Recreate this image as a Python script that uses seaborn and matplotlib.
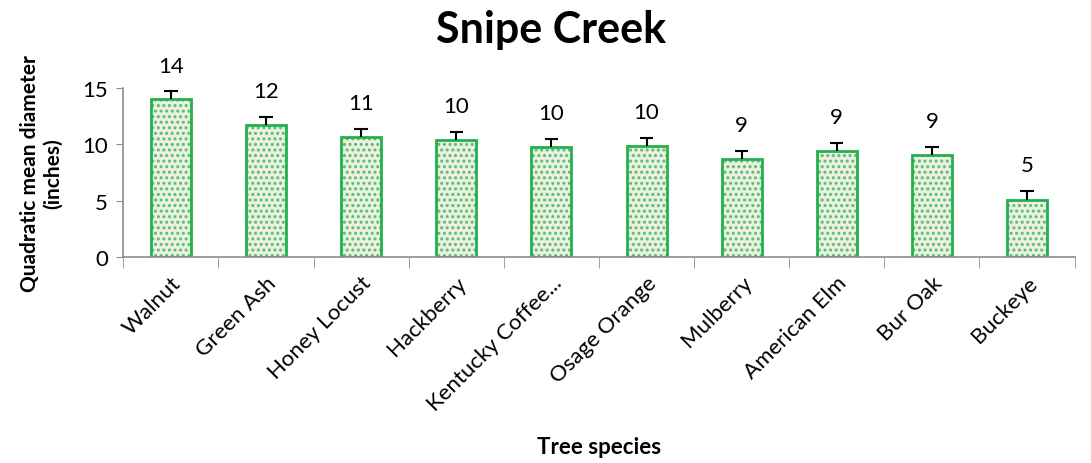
import numpy as np
import pandas as pd
import matplotlib
matplotlib.use("Agg")
import matplotlib.pyplot as plt
import seaborn as sns


# =====================================
# DATA
# =====================================

species = [
    "Walnut",
    "Green Ash",
    "Honey Locust",
    "Hackberry",
    "Kentucky Coffee...",
    "Osage Orange",
    "Mulberry",
    "American Elm",
    "Bur Oak",
    "Buckeye"
]

qmd = [14.0, 11.7, 10.65, 10.4, 9.75, 9.85, 8.7, 9.4, 9.05, 5.05]

qmd_err = [0.7, 0.7, 0.7, 0.7, 0.7, 0.7, 0.7, 0.7, 0.7, 0.8]

df = pd.DataFrame({
    "species": species,
    "qmd": qmd
})


# =====================================
# STYLE
# =====================================

sns.set_style("white")

plt.rcParams["font.family"] = ["Lato", "DejaVu Sans"]
plt.rcParams["hatch.linewidth"] = 1.4
plt.rcParams["text.color"] = "black"
plt.rcParams["axes.labelcolor"] = "black"
plt.rcParams["xtick.labelcolor"] = "black"
plt.rcParams["ytick.labelcolor"] = "black"

green = "#22b14c"
hatch_green = "#4fbf6e"
face = "#eef1df"
grey = "#8c8c8c"


# =====================================
# PLOT
# =====================================

fig = plt.figure(figsize=(10.91, 4.64), dpi=100)

ax = fig.add_axes([0.113, 0.444, 0.872, 0.364])

# textured fill
sns.barplot(
    data=df,
    x="species",
    y="qmd",
    color=face,
    width=0.42,
    edgecolor=hatch_green,
    linewidth=0,
    hatch="...",
    ax=ax
)

# outline
sns.barplot(
    data=df,
    x="species",
    y="qmd",
    fill=False,
    width=0.42,
    edgecolor=green,
    linewidth=2,
    ax=ax
)

xpos = np.arange(len(species))
tops = np.array(qmd) + np.array(qmd_err)

# upper error bars only
ax.vlines(xpos, qmd, tops, color="black", linewidth=1.5, zorder=1)
ax.hlines(tops, xpos - 0.07, xpos + 0.07, color="black", linewidth=1.5, zorder=3)

for x, v, t in zip(xpos, qmd, tops):
    ax.text(
        x,
        t + 2.3,
        f"{v:.0f}",
        ha="center",
        va="center",
        fontsize=16,
        color="black",
        clip_on=False
    )

ax.set_ylim(0, 15)
ax.set_xlim(-0.5, len(species) - 0.5)
ax.set_yticks([0, 5, 10, 15])
ax.tick_params(axis="y", labelsize=16, length=5, color=grey, labelcolor="black",
               direction="out", left=True, pad=6)

ax.set_xticks(xpos)
ax.set_xticklabels(species, rotation=45, ha="right", rotation_mode="anchor", fontsize=16)
ax.tick_params(axis="x", length=0, pad=11, labelcolor="black")
ax.set_xticks(np.arange(len(species) + 1) - 0.5, minor=True)
ax.tick_params(axis="x", which="minor", length=8, color=grey, bottom=True)

for side in ["top", "right"]:
    ax.spines[side].set_visible(False)
for side in ["left", "bottom"]:
    ax.spines[side].set_color(grey)
    ax.spines[side].set_linewidth(1.2)

ax.set_xlabel("Tree species", fontsize=16, fontweight="bold", color="black")
ax.xaxis.set_label_coords(0.5, -1.06)
ax.set_ylabel("Quadratic mean diameter\n(inches)", fontsize=15, fontweight="bold",
              labelpad=14, color="black")

fig.text(0.505, 0.935, "Snipe Creek", ha="center", va="center", fontsize=31,
         fontweight="bold", color="black")

fig.savefig("out.png", dpi=100)
